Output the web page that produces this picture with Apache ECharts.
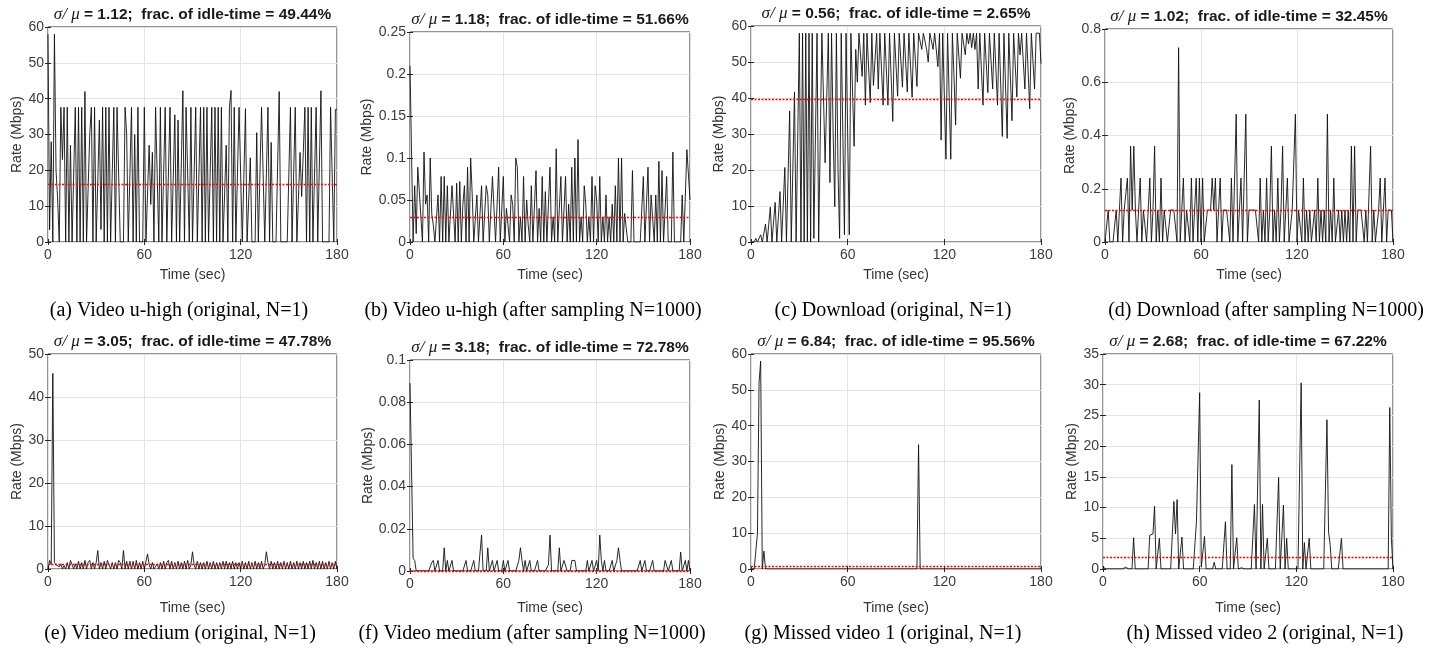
<!DOCTYPE html>
<html>
<head>
<meta charset="utf-8">
<script src="https://cdn.jsdelivr.net/npm/echarts@6/dist/echarts.min.js"></script>
<style>
  html, body { margin: 0; padding: 0; background: #fff; }
  #chart { width: 1432px; height: 649px; }
</style>
</head>
<body>
<div id="chart"></div>
<script>
// one sample per second, t = 0 .. 180 s
const timeTicks = [0, 60, 120, 180];

const rateA = [
  58, 3.4, 28, 0, 58, 20, 12, 0, 37.6, 23,
  37.6, 0, 37.6, 0, 27, 0, 0, 37.6, 0, 37.6,
  0, 37.6, 0, 42, 0, 0, 30, 37.6, 0, 37.6,
  0, 0, 34, 3.5, 37.6, 0, 37.6, 0, 37.6, 0,
  0, 37.6, 0, 37.6, 37.6, 0, 0, 0, 37.6, 30,
  0, 0, 37.6, 0, 30, 0, 37.6, 0, 0, 0,
  37.6, 0, 0, 27, 10.5, 25, 0, 37.6, 37.6, 0,
  37.6, 0, 0, 37.6, 0, 0, 37.6, 0, 0, 35.5,
  0, 34, 0, 0, 42.2, 0, 37.6, 37.6, 0, 37.6,
  0, 0, 37.6, 0, 0, 37.6, 0, 37.6, 0, 37.6,
  0, 0, 37.6, 0, 37.6, 0, 37.6, 0, 37.6, 0,
  0, 27, 0, 37.6, 42.3, 0, 37.6, 0, 0, 37.6,
  37.6, 0, 0, 37.2, 0, 0, 23.5, 0, 0, 0,
  30.5, 0, 0, 37.6, 37.6, 0, 0, 37.6, 0, 27.8,
  0, 0, 0, 0, 42, 0, 0, 0, 0, 0,
  0, 37.6, 0, 0, 37.6, 0, 0, 25, 12.7, 25,
  37.6, 0, 37.6, 0, 37.6, 0, 0, 37.6, 0, 0,
  42.2, 0, 0, 0, 0, 0, 37.6, 37.6, 0, 37,
  37
];

const rateB = [
  0.21, 0.21, 0, 0.067, 0.01, 0.089, 0.06, 0.03, 0, 0.107,
  0.045, 0.056, 0, 0.1, 0.033, 0.02, 0, 0, 0.056, 0,
  0.078, 0, 0.078, 0, 0.067, 0, 0, 0.067, 0.067, 0,
  0.07, 0, 0.072, 0, 0.045, 0.067, 0, 0.089, 0, 0.1,
  0.056, 0, 0, 0.056, 0, 0, 0.067, 0, 0, 0.067,
  0.056, 0, 0, 0.078, 0.078, 0, 0, 0.089, 0, 0,
  0.078, 0, 0.04, 0.02, 0, 0.056, 0.045, 0, 0.1, 0.089,
  0, 0.03, 0, 0.078, 0, 0.05, 0.02, 0, 0.067, 0,
  0, 0.085, 0, 0.04, 0, 0.078, 0, 0.06, 0, 0.045,
  0.089, 0, 0.03, 0, 0.111, 0, 0.04, 0.078, 0, 0,
  0.078, 0, 0.045, 0, 0.089, 0, 0.1, 0, 0.122, 0,
  0.03, 0, 0.067, 0.045, 0, 0.03, 0, 0.078, 0, 0.067,
  0.05, 0, 0.078, 0, 0.03, 0, 0.056, 0, 0.03, 0,
  0.045, 0, 0.067, 0, 0.1, 0, 0.1, 0, 0.034, 0.034,
  0, 0, 0, 0.085, 0, 0, 0, 0, 0, 0,
  0.078, 0, 0, 0.089, 0, 0.056, 0.056, 0, 0.056, 0,
  0.096, 0, 0.085, 0, 0, 0.078, 0, 0, 0, 0.107,
  0, 0, 0, 0, 0, 0.056, 0, 0, 0.11, 0.11,
  0.05
];

const rateC = [
  0, 0, 0, 1, 0, 0, 2, 0, 0, 5,
  0, 0, 9.7, 0, 0, 11, 0, 0, 14, 0,
  0, 20.7, 0, 0, 36.4, 0, 0, 41.7, 0, 0,
  58, 0, 58, 0, 58, 0, 58, 0, 58, 1,
  1, 58, 0, 0, 58, 40, 22, 21.7, 58, 16.5,
  58, 30, 9.8, 58, 20, 1, 58, 30, 2, 58,
  30, 2, 58, 58, 26.6, 53.5, 44.4, 58, 58, 46,
  58, 38, 58, 58, 38.7, 58, 43.5, 44, 58, 42.5,
  58, 58, 38, 58, 58, 38, 58, 58, 33.5, 58,
  58, 40.5, 58, 58, 43, 58, 58, 41.7, 58, 58,
  40.2, 58, 58, 43.2, 58, 58, 53.5, 58, 58, 53.5,
  50, 58, 58, 53.5, 58, 58, 48.7, 58, 28.3, 58,
  58, 23, 58, 58, 23, 58, 46, 32.5, 58, 58,
  45.5, 58, 58, 52, 58, 55, 58, 54, 58, 53.5,
  58, 42.5, 58, 58, 38, 58, 58, 41.5, 58, 58,
  42.5, 58, 58, 38, 58, 58, 29.3, 58, 58, 28.8,
  58, 58, 33.7, 58, 58, 40.3, 58, 52, 58, 58,
  42.5, 58, 58, 37, 58, 58, 42.5, 58, 58, 58,
  49.5
];

const rateD = [
  0, 0, 0.12, 0, 0, 0, 0, 0.12, 0, 0,
  0.24, 0, 0.12, 0.12, 0.24, 0, 0.36, 0.12, 0.36, 0.12,
  0, 0, 0.24, 0, 0.12, 0.12, 0, 0, 0.24, 0,
  0.12, 0.36, 0, 0.12, 0, 0.24, 0, 0.12, 0.12, 0,
  0, 0.12, 0.12, 0.12, 0.12, 0, 0.73, 0, 0, 0.24,
  0, 0.12, 0.12, 0, 0.24, 0, 0.12, 0.24, 0, 0.24,
  0, 0.24, 0, 0, 0.12, 0.12, 0.12, 0.24, 0.12, 0.24,
  0, 0, 0.24, 0, 0.12, 0.12, 0.12, 0.12, 0, 0.24,
  0, 0, 0.48, 0, 0, 0.24, 0, 0, 0.48, 0,
  0.12, 0.12, 0.12, 0.12, 0.12, 0.12, 0, 0.24, 0, 0.12,
  0, 0.24, 0, 0.12, 0.36, 0, 0.12, 0, 0.24, 0,
  0.12, 0.36, 0, 0.12, 0.24, 0, 0, 0.12, 0.12, 0.48,
  0, 0.12, 0.12, 0, 0.24, 0, 0.12, 0, 0.12, 0,
  0, 0.12, 0, 0.24, 0, 0.12, 0, 0.12, 0, 0.48,
  0, 0.12, 0, 0.24, 0, 0, 0.12, 0, 0.12, 0,
  0.12, 0, 0.12, 0, 0.36, 0, 0.36, 0, 0.12, 0.12,
  0.12, 0.12, 0, 0.12, 0, 0, 0.36, 0, 0.12, 0,
  0, 0.12, 0.24, 0, 0, 0.24, 0, 0.12, 0.12, 0.12,
  0
];

const rateE = [
  0, 2, 1, 45.5, 1.5, 1, 1.2, 0.5, 1.2, 0,
  0.8, 0, 1.5, 0, 2, 2, 0, 1.2, 0, 1.8,
  0, 1.5, 0, 2, 0, 1.5, 2, 0, 1.5, 0,
  1.5, 4.3, 0, 1.5, 0, 1.8, 0, 2, 2, 0,
  1.5, 0, 1.5, 0, 2, 1.5, 0, 4.3, 0, 1.8,
  0, 1.8, 0, 1.8, 0, 2, 0, 1.5, 0, 1.8,
  0, 0, 3.5, 1, 0, 1.5, 0, 0, 1.2, 0,
  1.5, 0, 1.8, 0, 1.5, 2, 0, 1.8, 0, 1.5,
  0, 1.8, 0, 1.5, 0, 1.8, 0, 2, 0, 1,
  4, 1, 0, 1.8, 0, 1.5, 0, 1.5, 0, 1.8,
  0, 1.5, 0, 1.8, 0, 1.5, 0, 1.5, 0, 1.8,
  0, 1.8, 0, 1.5, 0, 1.8, 0, 1.5, 0, 1.5,
  0, 1.8, 0, 1.5, 0, 1.8, 0, 1.5, 0, 1.8,
  0, 1.5, 0, 1.8, 0, 1, 4, 1.5, 0, 1.8,
  0, 1.5, 0, 1.8, 0, 1.5, 0, 1.8, 0, 1.5,
  0, 1.8, 0, 1.5, 0, 1.8, 0, 1.5, 0, 1.8,
  0, 1.5, 0, 1.8, 0, 2, 0, 1.5, 0, 1.8,
  0, 1.8, 0, 1.5, 0, 1.8, 0, 1.5, 0, 1.8,
  0
];

const rateF = [
  0.089, 0.089, 0.006, 0.005, 0, 0, 0, 0, 0, 0,
  0, 0, 0, 0, 0.004, 0.005, 0, 0, 0.005, 0,
  0, 0, 0.011, 0, 0.005, 0, 0, 0.005, 0, 0,
  0, 0, 0, 0, 0, 0, 0.005, 0, 0, 0,
  0, 0.005, 0, 0, 0, 0, 0.017, 0, 0, 0,
  0.011, 0, 0, 0.005, 0, 0, 0.005, 0, 0, 0,
  0.005, 0, 0, 0.005, 0, 0, 0, 0, 0, 0,
  0.005, 0.011, 0.005, 0, 0.005, 0, 0, 0.005, 0, 0,
  0, 0, 0.005, 0, 0, 0, 0, 0, 0, 0.003,
  0.017, 0, 0, 0, 0, 0, 0.011, 0, 0, 0.005,
  0.005, 0, 0, 0, 0.005, 0.005, 0.005, 0, 0, 0,
  0, 0, 0, 0, 0.005, 0, 0, 0.005, 0, 0,
  0.005, 0, 0.017, 0.005, 0, 0.005, 0, 0, 0, 0,
  0.005, 0, 0, 0.005, 0.011, 0.005, 0, 0, 0, 0,
  0, 0, 0, 0, 0, 0, 0, 0, 0.005, 0,
  0, 0.005, 0, 0, 0, 0, 0.005, 0, 0, 0,
  0, 0, 0, 0, 0.005, 0.005, 0, 0, 0.005, 0,
  0, 0, 0, 0, 0.009, 0, 0, 0.005, 0, 0.005,
  0
];

const rateG = [
  0, 0, 0, 5, 10, 52, 58, 0, 5, 0,
  0, 0, 0, 0, 0, 0, 0, 0, 0, 0,
  0, 0, 0, 0, 0, 0, 0, 0, 0, 0,
  0, 0, 0, 0, 0, 0, 0, 0, 0, 0,
  0, 0, 0, 0, 0, 0, 0, 0, 0, 0,
  0, 0, 0, 0, 0, 0, 0, 0, 0, 0,
  0, 0, 0, 0, 0, 0, 0, 0, 0, 0,
  0, 0, 0, 0, 0, 0, 0, 0, 0, 0,
  0, 0, 0, 0, 0, 0, 0, 0, 0, 0,
  0, 0, 0, 0, 0, 0, 0, 0, 0, 0,
  0, 0, 0, 0, 34.7, 0, 0, 0, 0, 0,
  0, 0, 0, 0, 0, 0, 0, 0, 0, 0,
  0, 0, 0, 0, 0, 0, 0, 0, 0, 0,
  0, 0, 0, 0, 0, 0, 0, 0, 0, 0,
  0, 0, 0, 0, 0, 0, 0, 0, 0, 0,
  0, 0, 0, 0, 0, 0, 0, 0, 0, 0,
  0, 0, 0, 0, 0, 0, 0, 0, 0, 0,
  0, 0, 0, 0, 0, 0, 0, 0, 0, 0,
  0
];

const rateH = [
  0.3, 0, 0, 0, 0, 0, 0, 0, 0, 0,
  0, 0, 0, 0, 0.3, 0, 0, 0, 0, 5.1,
  0, 0, 0, 0, 0, 0, 0, 0, 0, 5.5,
  5.7, 5.7, 10.2, 0, 0, 5, 0, 0, 0, 0,
  0, 0, 0, 0, 11, 5.7, 11.3, 0, 0, 5.2,
  0, 0, 0, 0, 0, 0, 0, 0, 7.7, 7.7,
  28.7, 0.3, 0, 5.3, 0, 0, 0, 0, 0, 1.1,
  0, 0, 0, 0, 0, 0, 7.7, 0, 0, 0,
  17, 0, 0, 5.1, 0, 0, 0.2, 0, 0, 0,
  0, 0, 0, 0, 10.5, 0, 0, 27.5, 0, 10.5,
  0, 0, 5, 0, 0, 0, 0, 0, 0, 14.9,
  0, 0, 10.4, 0, 5, 0, 0, 0, 0, 0,
  0, 0, 0, 30.3, 0, 4.3, 0, 0, 5, 0,
  0, 0, 0, 0, 0, 0, 0, 0, 0, 24.3,
  6, 4, 0, 0, 0, 0, 0, 0, 5, 0,
  0, 0, 0, 0, 0, 0, 0, 0, 0, 0,
  0, 0, 0, 0, 0, 0, 0, 0, 0, 0,
  0, 0, 0, 0, 0, 0, 0, 0, 26.3, 5,
  0
];

const rates = [rateA, rateB, rateC, rateD, rateE, rateF, rateG, rateH];
const meanRates = [16, 0.0335, 39.7, 0.118, 1.1, 0.0025, 0.9, 1.95];
const cvValues = ['1.12', '1.18', '0.56', '1.02', '3.05', '3.18', '6.84', '2.68'];
const idleFrac = ['49.44', '51.66', '2.65', '32.45', '47.78', '72.78', '95.56', '67.22'];
const yMaxes = [60, 0.25, 60, 0.8, 50, 0.1, 60, 35];
const yIntervals = [10, 0.05, 10, 0.2, 10, 0.02, 10, 5];
const captions = [
  '(a) Video u-high (original, N=1)',
  '(b) Video u-high (after sampling N=1000)',
  '(c) Download (original, N=1)',
  '(d) Download (after sampling N=1000)',
  '(e) Video medium (original, N=1)',
  '(f) Video medium (after sampling N=1000)',
  '(g) Missed video 1 (original, N=1)',
  '(h) Missed video 2 (original, N=1)'
];

// layout: plot box [left, top, width, height], y-name gap, x-name gap, caption centre
const layout = [
  { box: [48, 27, 289, 215], yGap: 24, xGap: 26, cap: [179, 311] },
  { box: [410, 32, 280, 210], yGap: 36, xGap: 26, cap: [533, 311] },
  { box: [751, 26, 290, 216], yGap: 25, xGap: 26, cap: [893, 311] },
  { box: [1105, 29, 288, 213], yGap: 21, xGap: 26, cap: [1266, 311] },
  { box: [48, 354, 289, 215], yGap: 24, xGap: 32, cap: [180, 634] },
  { box: [410, 360, 280, 211], yGap: 35, xGap: 30, cap: [532, 634] },
  { box: [751, 354, 290, 215], yGap: 24, xGap: 32, cap: [883, 634] },
  { box: [1103, 354, 290, 215], yGap: 20, xGap: 32, cap: [1265, 634] }
];

const AXIS = '#262626';
const LABEL = '#3c3c3c';
const GRIDLINE = '#e3e3e3';

const grids = [], xAxes = [], yAxes = [], series = [], titles = [];

rates.forEach((vals, i) => {
  const L = layout[i];
  const [left, top, width, height] = L.box;
  grids.push({
    left, top, width, height,
    show: true, borderColor: AXIS, borderWidth: 1,
    containLabel: false, outerBoundsMode: 'none'
  });

  const tick = { show: true, inside: true, length: 3, lineStyle: { color: AXIS } };

  xAxes.push({
    gridIndex: i, type: 'value', min: 0, max: 180, interval: 60,
    axisLine: { show: false }, axisTick: tick,
    axisLabel: { color: LABEL, fontSize: 14, fontFamily: 'Liberation Sans', margin: 6 },
    splitLine: { show: true, lineStyle: { color: GRIDLINE, width: 1 } },
    name: 'Time (sec)', nameLocation: 'middle', nameGap: L.xGap,
    nameTextStyle: { color: '#333', fontSize: 14, fontFamily: 'Liberation Sans' }
  });
  xAxes.push({
    gridIndex: i, type: 'value', position: 'top', min: 0, max: 180, interval: 60,
    axisLine: { show: false }, axisTick: tick, axisLabel: { show: false },
    splitLine: { show: false }
  });

  yAxes.push({
    gridIndex: i, type: 'value', min: 0, max: yMaxes[i], interval: yIntervals[i],
    axisLine: { show: false }, axisTick: tick,
    axisLabel: { color: LABEL, fontSize: 14, fontFamily: 'Liberation Sans', margin: 4 },
    splitLine: { show: true, lineStyle: { color: GRIDLINE, width: 1 } },
    name: 'Rate (Mbps)', nameLocation: 'middle', nameGap: L.yGap, nameRotate: 90,
    nameTextStyle: { color: '#333', fontSize: 14, fontFamily: 'Liberation Sans' }
  });
  yAxes.push({
    gridIndex: i, type: 'value', position: 'right', min: 0, max: yMaxes[i], interval: yIntervals[i],
    axisLine: { show: false }, axisTick: tick, axisLabel: { show: false },
    splitLine: { show: false }
  });

  series.push({
    type: 'line',
    xAxisIndex: 2 * i, yAxisIndex: 2 * i,
    data: vals.map((v, t) => [t, v]),
    showSymbol: false, symbol: 'none',
    lineStyle: { color: '#111', width: 0.9 },
    markLine: {
      silent: true, animation: false,
      symbol: ['none', 'none'],
      label: { show: false },
      lineStyle: { color: '#ff0000', type: [2, 1.5], width: 1.3 },
      data: [{ yAxis: meanRates[i] }]
    }
  });

  titles.push({
    text: '{s|σ/ μ} = ' + cvValues[i] + ';  frac. of idle-time = ' + idleFrac[i] + '%',
    left: left + width / 2, top: top - 21, textAlign: 'center', padding: 0,
    textStyle: {
      fontFamily: 'Liberation Sans', fontSize: 15.5, fontWeight: 'bold', color: '#1a1a1a',
      lineHeight: 18,
      rich: {
        s: { fontFamily: 'Liberation Serif', fontStyle: 'italic', fontWeight: 'normal', fontSize: 17, color: '#1a1a1a', lineHeight: 18 }
      }
    }
  });

  titles.push({
    text: captions[i],
    left: L.cap[0], top: L.cap[1] - 12, textAlign: 'center', padding: 0,
    textStyle: { fontFamily: 'Liberation Serif', fontSize: 20, fontWeight: 'normal', color: '#000', lineHeight: 24 }
  });
});

const chart = echarts.init(document.getElementById('chart'), null, { renderer: 'canvas' });
chart.setOption({
  backgroundColor: '#ffffff',
  animation: false,
  title: titles,
  grid: grids,
  xAxis: xAxes,
  yAxis: yAxes,
  series
});
</script>
</body>
</html>
